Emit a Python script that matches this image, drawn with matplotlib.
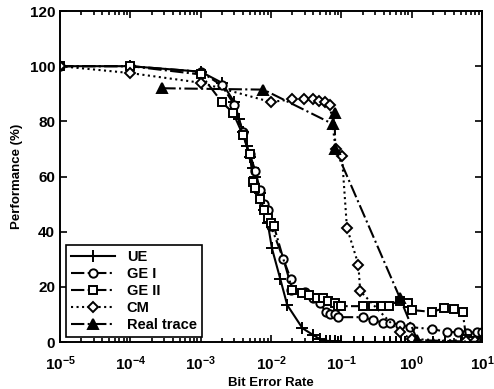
import numpy as np
import matplotlib
matplotlib.use("Agg")
from matplotlib import pyplot as plt
from matplotlib.ticker import FixedLocator, FuncFormatter, LogLocator, NullFormatter

plt.rcParams['font.family'] = ['Liberation Sans', 'DejaVu Sans']
plt.rcParams['font.weight'] = 'bold'
plt.rcParams['mathtext.fontset'] = 'custom'
plt.rcParams['mathtext.rm'] = 'Liberation Sans:bold'
plt.rcParams['mathtext.bf'] = 'Liberation Sans:bold'
plt.rcParams['mathtext.default'] = 'bf'

## data: bit error rate vs performance (%)

ue_x = [1e-5, 1e-4, 1e-3, 2e-3, 3e-3, 3.5e-3, 4e-3, 4.5e-3, 5e-3, 5.5e-3, 6e-3, 7e-3, 8e-3, 9e-3,
        1.03e-2, 1.35e-2, 1.7e-2, 2.8e-2, 4e-2, 5e-2, 6e-2, 7e-2, 8e-2, 9e-2, 0.1, 0.15, 0.2,
        0.3, 0.4, 0.5, 0.6, 0.7, 0.8, 1.0, 2.0, 3.0, 5.0, 7.0, 10.0]
ue_y = [100, 100, 98, 94, 87, 81, 76, 71, 67, 63, 60, 54, 48, 43,
        34, 23, 13.4, 5, 2.5, 1, 0.5, 0.3, 0.2, 0.1, 0, 0, 0,
        0, 0, 0, 0, 0, 0, 0, 0, 0, 0, 0, 0]

ge1_x = [1e-5, 1e-4, 1e-3, 2e-3, 3e-3, 4e-3, 5e-3, 6e-3, 7e-3, 8e-3, 9e-3, 1e-2, 1.5e-2,
         1.9e-2, 1.95e-2, 3e-2, 4e-2, 5e-2, 6e-2, 7e-2, 8e-2, 9e-2, 0.2, 0.28, 0.39, 0.49,
         0.68, 0.95, 1.95, 3.2, 4.5, 6.2, 8.5, 10.0]
ge1_y = [100, 100, 98, 93, 86, 76, 68, 62, 55, 50, 48, 42, 30,
         23, 19, 18, 16, 14, 11, 10, 10, 9, 9, 8, 7, 7,
         6.2, 5.4, 4.7, 3.6, 3.6, 3.3, 3.6, 3.5]

ge2_x = [1e-5, 1e-4, 1e-3, 2e-3, 2.9e-3, 4e-3, 5e-3, 5.6e-3, 6e-3, 7e-3, 8e-3, 9e-3, 1e-2,
         1.1e-2, 2e-2, 2.75e-2, 3.5e-2, 4.5e-2, 5.5e-2, 6.5e-2, 8e-2, 9e-2, 0.1, 0.2,
         0.28, 0.38, 0.47, 0.68, 0.9, 1.0, 1.95, 2.9, 4.0, 5.3, 6.0, 7.0, 8.5, 10.0]
ge2_y = [100, 100, 97, 87, 83, 75, 68, 58, 56, 52, 48, 45, 43,
         42, 19, 17.8, 17, 16, 16, 15, 14, 13, 13, 13,
         13, 13, 13, 15, 14, 11.6, 10.9, 12.3, 12, 11, 1, 0.5, 0.5, 0.5]

cm_x = [1e-5, 1e-4, 1e-3, 1e-2, 2e-2, 2.9e-2, 3.9e-2, 4.8e-2, 5.8e-2, 6.9e-2, 8.3e-2,
        0.102, 0.12, 0.175, 0.185, 0.68, 1.0, 6.0, 8.0, 10.0]
cm_y = [100, 97.5, 94, 87, 88, 88, 88, 87.5, 87, 86, 70,
        67.5, 41.5, 28, 18.5, 3.5, 1, 0.5, 0.5, 0.5]

rt_x = [2.85e-4, 7.8e-3, 7.6e-2, 8e-2, 8.2e-2, 0.68, 1.2, 10.0]
rt_y = [92, 91.5, 79, 83, 70, 16, 0.7, 0]

labels = ['UE', 'GE I', 'GE II', 'CM', 'Real trace']

## figure and axes

fig = plt.figure(figsize=(4.94, 3.89), dpi=100)
ax  = fig.add_axes([0.1215, 0.1208, 0.8542, 0.8509])

lw  = 1.5
mew = 1.4
ax.plot(ue_x, ue_y, '-', color='k', lw=lw, marker='+', ms=8, mew=mew, label=labels[0])
ax.plot(ge1_x, ge1_y, '-.', color='k', lw=lw, marker='o', ms=6, mew=mew, mfc='white', label=labels[1])
ax.plot(ge2_x, ge2_y, '-.', color='k', lw=lw, marker='s', ms=6, mew=mew, mfc='white', label=labels[2])
ax.plot(cm_x, cm_y, ':', color='k', lw=lw, marker='D', ms=5, mew=mew, mfc='white', label=labels[3])
ax.plot(rt_x, rt_y, '-.', color='k', lw=lw, marker='^', ms=7, mew=mew, mfc='k', label=labels[4])

ax.set_xscale('log')
ax.set_xlim(1e-5, 10)
ax.set_ylim(0, 120)

ax.xaxis.set_major_locator(FixedLocator([1e-5, 1e-4, 1e-3, 1e-2, 1e-1, 1e0, 1e1]))
ax.xaxis.set_major_formatter(FuncFormatter(lambda v, p: r'$10^{%d}$' % int(round(np.log10(v)))))
ax.xaxis.set_minor_locator(LogLocator(base=10, subs=np.arange(2, 10)))
ax.xaxis.set_minor_formatter(NullFormatter())
ax.set_yticks([0, 20, 40, 60, 80, 100, 120])

ax.tick_params(which='both', direction='in', top=True, right=True, width=1.2, labelsize=11)
ax.tick_params(which='major', length=5)
ax.tick_params(which='minor', length=3)
ax.tick_params(axis='x', which='major', pad=9)
for s in ax.spines.values():
    s.set_linewidth(1.4)

ax.set_xlabel('Bit Error Rate', fontsize=9.5, fontweight='bold', labelpad=3)
ax.set_ylabel('Performance (%)', fontsize=9.5, fontweight='bold', labelpad=5)

leg = ax.legend(loc='lower left', bbox_to_anchor=(0.008, 0.006), borderaxespad=0.2,
                fancybox=False, edgecolor='k', framealpha=1, handlelength=3.0,
                prop={'size': 10.5, 'weight': 'bold'}, labelspacing=0.2, borderpad=0.35)
leg.get_frame().set_linewidth(1.2)

fig.savefig('out.png', dpi=100)
